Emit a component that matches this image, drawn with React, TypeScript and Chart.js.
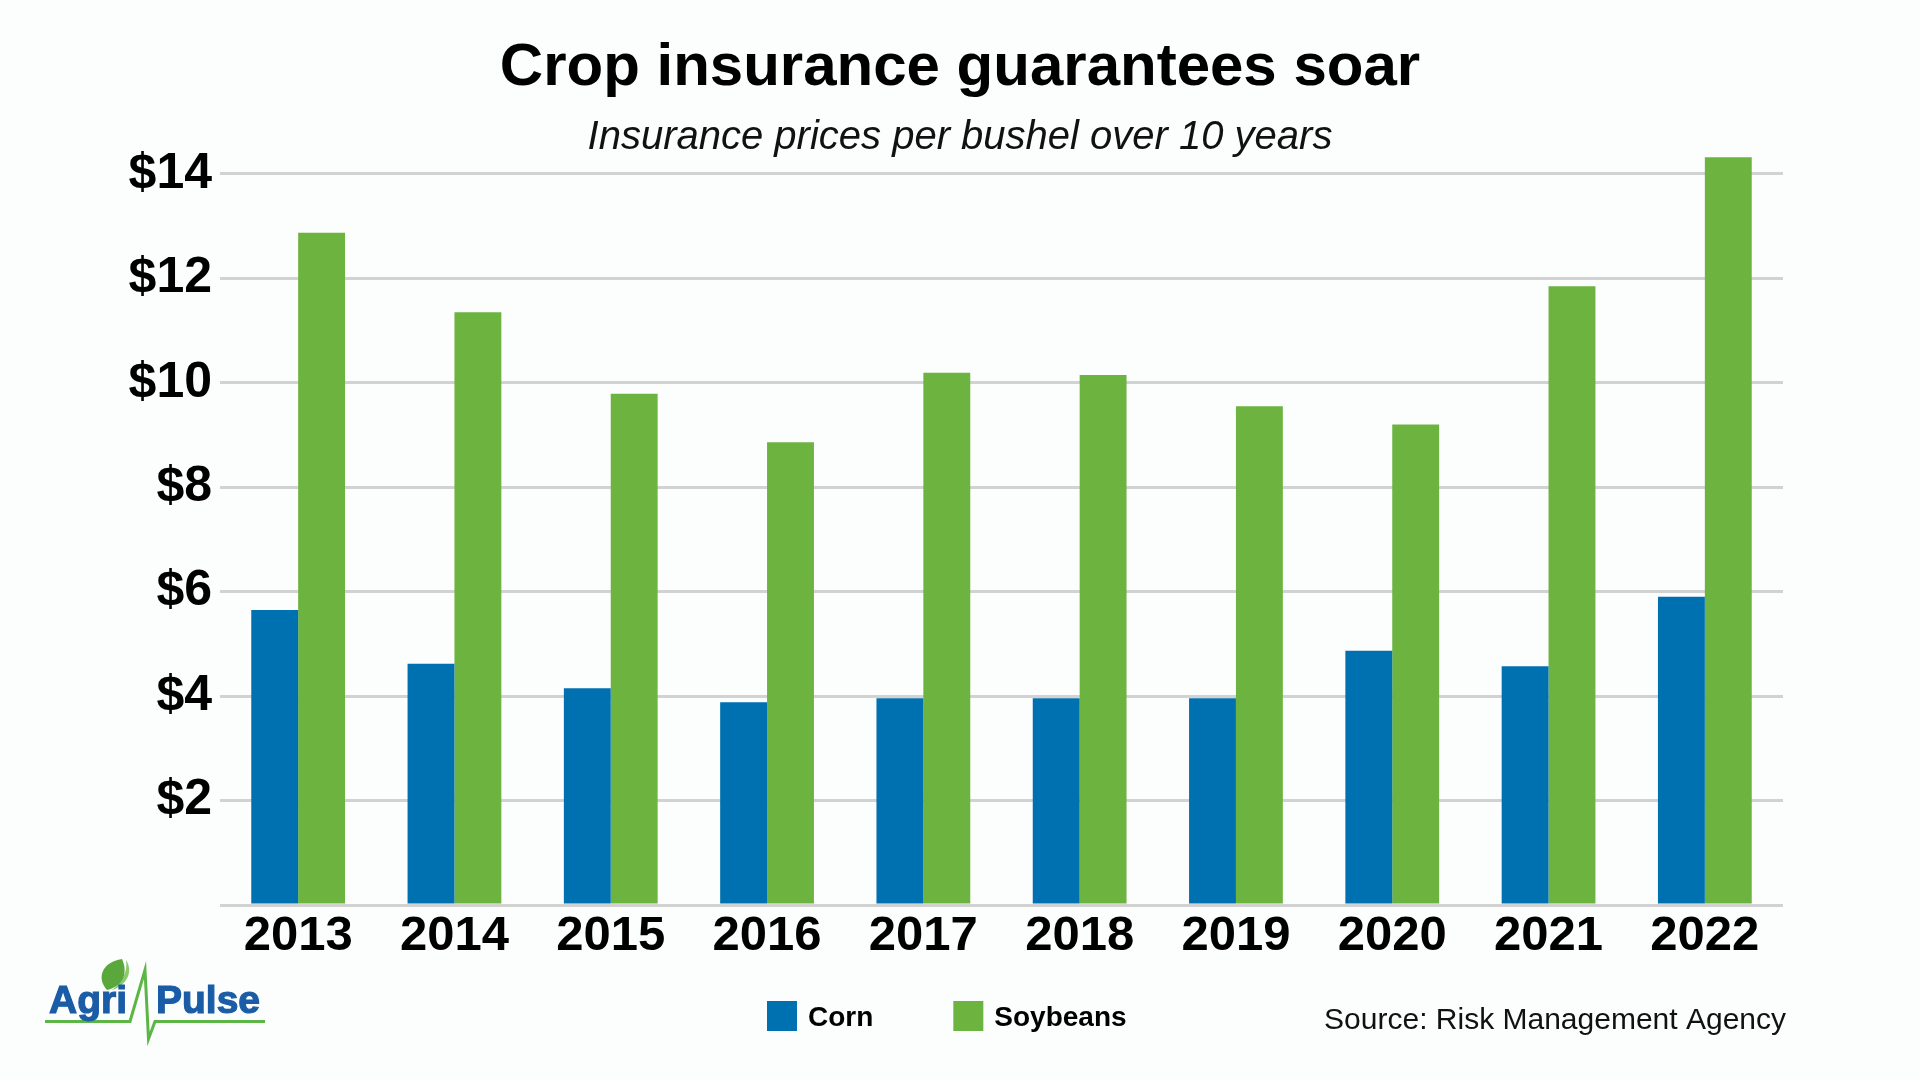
import React, { useEffect, useRef } from 'react';
import { Chart, registerables } from 'chart.js';

Chart.register(...registerables);

// ---- Data ----
const years = ['2013', '2014', '2015', '2016', '2017', '2018', '2019', '2020', '2021', '2022'];
const cornValues = [5.65, 4.62, 4.15, 3.88, 3.96, 3.96, 3.96, 4.87, 4.57, 5.9];
const soybeanValues = [12.87, 11.35, 9.79, 8.86, 10.19, 10.15, 9.55, 9.2, 11.85, 14.32];
const seriesNames = ['Corn', 'Soybeans'];
const yTickValues = [0, 2, 4, 6, 8, 10, 12, 14];
const chartTitle = 'Crop insurance guarantees soar';
const chartSubtitle = 'Insurance prices per bushel over 10 years';
const sourceNote = 'Source: Risk Management Agency';
const logoWords = ['Agri', 'Pulse'];

// ---- Styles ----
const FONT = "'Liberation Sans', Arial, Helvetica, sans-serif";
const BLUE = '#0071b0';
const GREEN = '#6db33f';
const BG = '#fcfdfd';
const LOGO_BLUE = '#1a5ca6';
const LOGO_GREEN = '#5cb646';

const backgroundPlugin = {
  id: 'bgFill',
  beforeDraw(chart: any) {
    const { ctx, width, height } = chart;
    ctx.save();
    ctx.fillStyle = BG;
    ctx.fillRect(0, 0, width, height);
    ctx.restore();
  },
};

const headerPlugin = {
  id: 'headerText',
  afterDraw(chart: any) {
    const ctx = chart.ctx;
    const cx = chart.width / 2;
    ctx.save();
    ctx.textAlign = 'center';
    ctx.textBaseline = 'alphabetic';
    ctx.fillStyle = '#000';
    ctx.font = `bold 60px ${FONT}`;
    ctx.fillText(chartTitle, cx, 85);
    ctx.fillStyle = '#111';
    ctx.font = `italic 40px ${FONT}`;
    ctx.fillText(chartSubtitle, cx, 149);
    ctx.restore();
  },
};

const footerPlugin = {
  id: 'footerExtras',
  afterDraw(chart: any) {
    const ctx = chart.ctx;
    ctx.save();

    // Legend
    ctx.font = `bold 28px ${FONT}`;
    ctx.textBaseline = 'alphabetic';
    ctx.textAlign = 'left';
    let x = 767;
    chart.data.datasets.forEach((ds: any) => {
      ctx.fillStyle = ds.backgroundColor;
      ctx.fillRect(x, 1001, 30, 30);
      ctx.fillStyle = '#000';
      ctx.fillText(ds.label, x + 41, 1026);
      x += 41 + ctx.measureText(ds.label).width + 80;
    });

    // Source note
    ctx.font = `30px ${FONT}`;
    ctx.textAlign = 'right';
    ctx.fillStyle = '#111';
    ctx.fillText(sourceNote, 1786, 1029);

    // Logo: pulse line
    ctx.strokeStyle = LOGO_GREEN;
    ctx.lineWidth = 3;
    ctx.lineJoin = 'miter';
    ctx.beginPath();
    ctx.moveTo(45, 1021.5);
    ctx.lineTo(130, 1021.5);
    ctx.lineTo(145, 970);
    ctx.lineTo(148.5, 1039);
    ctx.lineTo(155, 1021.5);
    ctx.lineTo(265, 1021.5);
    ctx.stroke();

    // Logo: leaf (back, lighter)
    ctx.fillStyle = '#8cc96a';
    ctx.beginPath();
    ctx.moveTo(112, 990);
    ctx.bezierCurveTo(126, 986, 134, 972, 126, 960);
    ctx.bezierCurveTo(128, 972, 122, 982, 112, 990);
    ctx.fill();
    // Logo: leaf (front)
    ctx.fillStyle = '#5aa83b';
    ctx.beginPath();
    ctx.moveTo(107, 990);
    ctx.bezierCurveTo(96, 978, 102, 962, 122, 959);
    ctx.bezierCurveTo(128, 972, 124, 986, 107, 990);
    ctx.fill();

    // Logo: words (heavy)
    ctx.font = `bold 39px ${FONT}`;
    ctx.textAlign = 'left';
    ctx.fillStyle = LOGO_BLUE;
    ctx.strokeStyle = LOGO_BLUE;
    ctx.lineWidth = 1.2;
    ctx.fillText(logoWords[0], 49, 1013);
    ctx.strokeText(logoWords[0], 49, 1013);
    ctx.fillText(logoWords[1], 156, 1013);
    ctx.strokeText(logoWords[1], 156, 1013);

    ctx.restore();
  },
};

export default function App() {
  const canvasRef = useRef<HTMLCanvasElement>(null);

  useEffect(() => {
    document.body.style.margin = '0';
    document.body.style.background = BG;
    const canvas = canvasRef.current;
    if (!canvas) return;

    const chart = new Chart(canvas, {
      type: 'bar',
      data: {
        labels: years,
        datasets: [
          {
            label: seriesNames[0],
            data: cornValues,
            backgroundColor: BLUE,
            borderWidth: 0,
            categoryPercentage: 0.6,
            barPercentage: 1.0,
          },
          {
            label: seriesNames[1],
            data: soybeanValues,
            backgroundColor: GREEN,
            borderWidth: 0,
            categoryPercentage: 0.6,
            barPercentage: 1.0,
          },
        ],
      },
      options: {
        responsive: false,
        animation: false,
        devicePixelRatio: 1,
        layout: { padding: { left: 128, right: 137, top: 154, bottom: 112 } },
        plugins: {
          legend: { display: false },
          tooltip: { enabled: false },
          title: { display: false },
          subtitle: { display: false },
        },
        scales: {
          x: {
            grid: { display: false, drawTicks: false },
            border: { display: false },
            ticks: {
              color: '#000',
              font: { family: FONT, size: 49, weight: 'bold', lineHeight: 1 },
              padding: 7,
              maxRotation: 0,
              autoSkip: false,
            },
          },
          y: {
            min: 0,
            max: 14.38,
            afterBuildTicks: (scale: any) => {
              scale.ticks = yTickValues.map((v) => ({ value: v }));
            },
            afterFit: (scale: any) => {
              scale.width = 92;
            },
            grid: { color: '#d2d2d2', lineWidth: 3, drawTicks: false },
            border: { display: false },
            ticks: {
              color: '#000',
              font: { family: FONT, size: 50, weight: 'bold', lineHeight: 1.2 },
              padding: 8,
              callback: (v: any) => (Number(v) === 0 ? '' : '$' + v),
            },
          },
        },
      },
      plugins: [backgroundPlugin, headerPlugin, footerPlugin],
    } as any);

    return () => chart.destroy();
  }, []);

  return (
    <div style={{ width: 1920, height: 1080 }}>
      <canvas ref={canvasRef} width={1920} height={1080} style={{ display: 'block' }} />
    </div>
  );
}
